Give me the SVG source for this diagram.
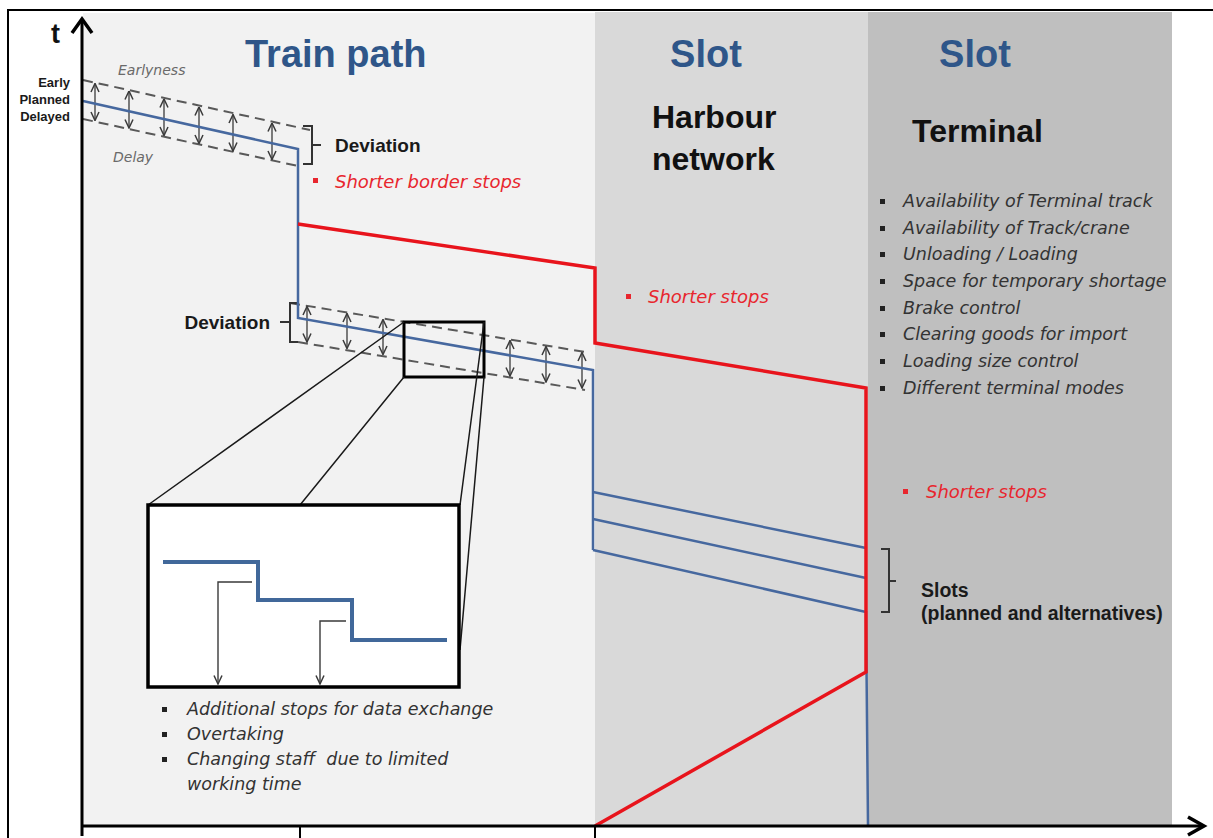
<svg xmlns="http://www.w3.org/2000/svg" width="1213" height="838" viewBox="0 0 1213 838">
<style>
.title{font-family:"Liberation Sans",Arial,sans-serif;font-weight:bold;font-size:38px;fill:#2f5689}
.head{font-family:"Liberation Sans",Arial,sans-serif;font-weight:bold;font-size:32px;fill:#111}
.bold{font-family:"Liberation Sans",Arial,sans-serif;font-weight:bold;fill:#1a1a1a}
.it{font-family:"DejaVu Sans",sans-serif;font-style:italic;font-size:17.5px;fill:#333}
.red{font-family:"DejaVu Sans",sans-serif;font-style:italic;font-size:18px;fill:#e8262e}
.small{font-family:"DejaVu Sans",sans-serif;font-style:italic;font-size:14px;fill:#6a6a6a}
.blue{fill:none;stroke:#46689f;stroke-width:2.5}
.dash{fill:none;stroke:#595959;stroke-width:2;stroke-dasharray:10,6}
.dbl{stroke:#3a3a3a;stroke-width:1.3;marker-start:url(#chev);marker-end:url(#chev)}
.thin{fill:none;stroke:#1a1a1a;stroke-width:1.5}
.brk{fill:none;stroke:#333;stroke-width:2}
</style>
<defs>
<marker id="chev" viewBox="0 0 10 10" refX="9.5" refY="5" markerWidth="10" markerHeight="10" markerUnits="userSpaceOnUse" orient="auto-start-reverse">
<path d="M1,1 L9.5,5 L1,9" fill="none" stroke="#3a3a3a" stroke-width="1.5"/>
</marker>
</defs>
<rect width="1213" height="838" fill="#fff"/>
<rect x="8" y="10" width="1230" height="850" fill="none" stroke="#000" stroke-width="2"/>
<g id="panels">
<rect x="83" y="13" width="512" height="813" fill="#f2f2f2"/>
<rect x="595" y="12" width="273" height="814" fill="#d9d9d9"/>
<rect x="868" y="12" width="304" height="814" fill="#bfbfbf"/>
</g>
<g id="titles">
<text class="title" x="245" y="67">Train path</text>
<text class="title" x="706" y="67" text-anchor="middle">Slot</text>
<text class="title" x="975" y="67" text-anchor="middle">Slot</text>
<text class="head" x="652" y="128">Harbour</text>
<text class="head" x="652" y="170">network</text>
<text class="head" x="912" y="142">Terminal</text>
</g>
<g id="axis-labels">
<text x="51" y="43" font-family="Liberation Sans,Arial,sans-serif" font-size="27" font-weight="bold" fill="#111">t</text>
<text class="bold" x="70" y="87" font-size="13" text-anchor="end">Early</text>
<text class="bold" x="70" y="104" font-size="13" text-anchor="end">Planned</text>
<text class="bold" x="70" y="121" font-size="13" text-anchor="end">Delayed</text>
<text class="small" x="118" y="75">Earlyness</text>
<text class="small" x="113" y="162">Delay</text>
</g>
<g id="deviation-band-1">
<path class="dash" d="M83,80 L310,130"/>
<path class="dash" d="M83,119 L298,166"/>
<line class="dbl" x1="95" y1="83.5" x2="95" y2="120.5"/>
<line class="dbl" x1="129" y1="91" x2="129" y2="128"/>
<line class="dbl" x1="164" y1="99" x2="164" y2="135.5"/>
<line class="dbl" x1="199" y1="107" x2="199" y2="143.5"/>
<line class="dbl" x1="233" y1="114.5" x2="233" y2="151"/>
<line class="dbl" x1="272" y1="123" x2="272" y2="159.5"/>
<path class="brk" d="M303,126 H312 V164 H303 M312,145 H321"/>
<text class="bold" x="335" y="152" font-size="19">Deviation</text>
<rect x="313" y="178" width="5" height="5" fill="#e8262e"/>
<text class="red" x="335" y="188">Shorter border stops</text>
</g>
<g id="deviation-band-2">
<path class="dash" d="M290,303 L585,352"/>
<path class="dash" d="M298,342 L585,390"/>
<line class="dbl" x1="307" y1="306.5" x2="307" y2="342"/>
<line class="dbl" x1="347" y1="313.5" x2="347" y2="348.5"/>
<line class="dbl" x1="383" y1="319.5" x2="383" y2="354.5"/>
<line class="dbl" x1="510" y1="340.5" x2="510" y2="376"/>
<line class="dbl" x1="546" y1="346.5" x2="546" y2="382"/>
<line class="dbl" x1="582" y1="352.5" x2="582" y2="388"/>
<path class="brk" d="M298,303 H290 V342 H298 M290,322 H280"/>
<text class="bold" x="270" y="329" font-size="19" text-anchor="end">Deviation</text>
</g>
<g id="connectors">
<path class="blue" d="M83,101 L298,149 L298,318 L593,370 L593,550"/>
<path class="blue" d="M593,492 L866,548"/>
<path class="blue" d="M593,519 L866,578"/>
<path class="blue" d="M593,550 L866,612 L868,826"/>
<path d="M298,224 L595,268 L595,343 L866,388 L866,672 L595,826" fill="none" stroke="#e8141c" stroke-width="3.5" stroke-linejoin="miter"/>
</g>
<g id="zoom">
<rect x="404" y="322" width="80" height="55" fill="none" stroke="#000" stroke-width="3"/>
<path class="thin" d="M404,322 L148,505 M404,377 L300,505 M484,322 L460,505 M484,377 L460,650"/>
</g>
<g id="inset">
<rect x="148" y="505" width="311" height="182" fill="#fff" stroke="#000" stroke-width="3.5"/>
<path d="M163,562 H258 V600 H352 V640 H447" fill="none" stroke="#41689a" stroke-width="4"/>
<path d="M252,582 H218 V684" fill="none" stroke="#3a3a3a" stroke-width="1.4" marker-end="url(#chev)"/>
<path d="M346,621 H320 V684" fill="none" stroke="#3a3a3a" stroke-width="1.4" marker-end="url(#chev)"/>
</g>
<g id="inset-list">
<rect x="162" y="707" width="5" height="5" fill="#222"/>
<text class="it" x="187" y="715">Additional stops for data exchange</text>
<rect x="162" y="732" width="5" height="5" fill="#222"/>
<text class="it" x="187" y="740">Overtaking</text>
<rect x="162" y="757" width="5" height="5" fill="#222"/>
<text class="it" x="187" y="765" style="white-space:pre">Changing staff  due to limited</text>
<text class="it" x="187" y="790">working time</text>
</g>
<g id="harbour-notes">
<rect x="626" y="294" width="5" height="5" fill="#e8262e"/>
<text class="red" x="648" y="303">Shorter stops</text>
</g>
<g id="terminal-notes">
<rect x="880" y="199" width="5" height="5" fill="#222"/>
<text class="it" x="903" y="207">Availability of Terminal track</text>
<rect x="880" y="226" width="5" height="5" fill="#222"/>
<text class="it" x="903" y="234">Availability of Track/crane</text>
<rect x="880" y="252" width="5" height="5" fill="#222"/>
<text class="it" x="903" y="260">Unloading / Loading</text>
<rect x="880" y="279" width="5" height="5" fill="#222"/>
<text class="it" x="903" y="287">Space for temporary shortage</text>
<rect x="880" y="306" width="5" height="5" fill="#222"/>
<text class="it" x="903" y="314">Brake control</text>
<rect x="880" y="332" width="5" height="5" fill="#222"/>
<text class="it" x="903" y="340">Clearing goods for import</text>
<rect x="880" y="359" width="5" height="5" fill="#222"/>
<text class="it" x="903" y="367">Loading size control</text>
<rect x="880" y="386" width="5" height="5" fill="#222"/>
<text class="it" x="903" y="394">Different terminal modes</text>
<rect x="903" y="489" width="5" height="5" fill="#e8262e"/>
<text class="red" x="926" y="498">Shorter stops</text>
</g>
<g id="slots-label">
<path class="brk" d="M881,549 H889 V612 H881 M889,581 H896"/>
<text class="bold" x="921" y="597" font-size="19.5">Slots</text>
<text class="bold" x="921" y="620" font-size="19.5">(planned and alternatives)</text>
</g>
<g id="axes" fill="none" stroke="#000">
<line x1="82" y1="836" x2="82" y2="20" stroke-width="3"/>
<polyline points="72,33 82,19 92,33" stroke-width="3.5"/>
<line x1="82" y1="826" x2="1204" y2="826" stroke-width="3"/>
<polyline points="1188,817 1204,826 1188,835" stroke-width="3.5"/>
<line x1="300" y1="826" x2="300" y2="838" stroke-width="2"/>
<line x1="595" y1="826" x2="595" y2="838" stroke-width="2"/>
</g>
</svg>
